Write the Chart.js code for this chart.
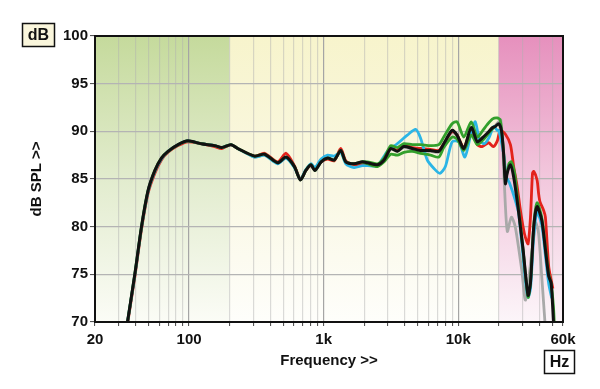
<!DOCTYPE html>
<html>
<head>
<meta charset="utf-8">
<script src="https://cdn.jsdelivr.net/npm/chart.js@4"></script>
<style>
  html, body { margin: 0; padding: 0; background: #fff; }
  #wrap { width: 600px; height: 389px; position: relative; }
</style>
</head>
<body>
<div id="wrap"><canvas id="fr"></canvas></div>
<script>
// frequency axis ticks (Hz) and which of them get a label
const xTicks = [20,30,40,50,60,70,80,90,100,200,300,400,500,600,700,800,900,
  1000,2000,3000,4000,5000,6000,7000,8000,9000,10000,20000,30000,40000,50000,60000];
const xLabels = { 20: '20', 100: '100', 1000: '1k', 10000: '10k', 60000: '60k' };

// black (main) response
const blackHz = [34,39.6,44.3,49.6,55.7,62.3,69.8,82.8,98,123,155,175,205,230,306,364,455,526,606,672,
  737,804,860,958,1070,1198,1340,1460,1684,1940,2115,2510,2810,3150,3520,3940,4550,5240,6220,7170,
  7800,9000,9800,11000,12480,13850,15060,16400,18000,18800,20000,20940,21700,22400,23060,24400,25800,28100,30300,33000,
  34400,36400,38500,41700,44400,47000,49000,51000,52000];
const blackDb = [69.0,75.1,80.0,83.8,85.9,87.2,87.9,88.6,89.0,88.7,88.5,88.3,88.6,88.2,87.4,87.6,86.7,87.3,86.3,84.9,
  85.9,86.5,85.9,86.8,87.2,87.0,88.0,86.8,86.6,86.8,86.7,86.5,87.0,88.2,87.9,88.4,88.2,88.0,88.0,87.9,
  88.7,90.1,89.6,88.2,90.4,88.9,89.3,89.8,90.4,90.5,90.8,90.1,87.7,84.5,85.6,86.5,85.2,81.5,77.6,72.8,
  74.1,80.0,82.1,80.7,77.6,74.8,74.1,70.0,68.5];

// red
const redHz = [34,39.6,44.3,49.6,55.7,62.3,69.8,82.8,98,123,155,175,205,230,306,364,455,526,606,672,
  737,804,860,958,1070,1198,1340,1460,1684,1940,2115,2510,2810,3150,3520,3940,4550,5240,6220,7170,
  7800,9000,9800,11000,12480,13850,15060,16800,18200,19500,20500,22400,24400,25800,27400,28700,30300,31500,33000,34400,
  35600,36400,38500,39500,40500,43100,44400,47000,49000,50500];
const redDb = [68.8,74.8,79.7,83.5,85.6,87.0,87.8,88.5,88.9,88.7,88.4,88.2,88.6,88.2,87.4,87.7,86.8,87.7,86.4,85.0,
  85.9,86.4,86.0,86.8,87.1,86.9,88.2,86.9,86.5,86.6,86.6,86.4,87.1,88.3,88.0,88.6,88.3,88.2,88.1,88.0,
  88.7,90.0,89.6,88.3,90.2,88.6,88.4,88.8,88.4,89.0,90.1,89.7,88.6,86.3,84.2,82.1,80.0,78.9,78.2,81.0,
  85.6,85.8,84.9,83.5,82.6,81.7,81.0,75.8,74.4,73.5];

// cyan
const cyanHz = [34,39.6,44.3,49.6,55.7,62.3,69.8,82.8,98,123,155,175,205,230,306,364,455,526,606,672,
  737,804,860,958,1070,1198,1340,1460,1684,1940,2115,2510,2970,3520,4180,4820,5240,5880,6600,7300,
  8020,9000,10100,11200,12360,13380,14360,15580,16860,18360,19500,20000,21700,22800,24000,26500,28100,31500,33000,34400,
  36400,38500,41700,44400,47000,49500];
const cyanDb = [69.0,75.0,79.9,83.7,85.8,87.1,87.9,88.6,89.0,88.7,88.5,88.3,88.6,88.2,87.3,87.5,86.6,87.2,86.2,85.0,
  86.0,86.6,86.2,87.1,87.5,87.4,87.8,86.6,86.2,86.4,86.4,86.4,87.9,88.7,89.6,90.2,89.3,87.0,86.1,85.6,
  86.3,88.9,88.9,87.3,89.6,91.0,89.1,88.7,89.3,90.5,90.1,90.1,87.7,85.2,84.6,82.8,81.4,74.4,72.6,73.5,
  79.0,81.5,80.2,77.0,74.0,72.5];

// grey
const greyHz = [34,39.6,44.3,49.6,55.7,62.3,69.8,82.8,98,123,155,175,205,230,306,364,455,526,606,672,
  737,804,860,958,1070,1198,1340,1460,1684,1940,2115,2510,2810,3150,3520,3940,4550,5240,6220,7170,
  7800,9000,9800,11000,12480,13850,15060,16400,18000,18800,20000,20700,21400,22000,23140,24800,26500,29600,31600,35600,
  37600,39500,41700,43600,44800];
const greyDb = [69.0,75.0,79.9,83.7,85.8,87.1,87.9,88.6,89.0,88.7,88.5,88.3,88.6,88.2,87.3,87.5,86.7,87.2,86.3,84.9,
  85.9,86.5,85.9,86.8,87.2,87.0,87.9,86.8,86.6,86.7,86.6,86.5,87.0,88.1,87.9,88.3,88.1,87.9,87.9,87.8,
  88.5,89.9,89.5,88.2,90.2,88.9,89.3,89.6,90.3,90.6,91.0,91.2,88.5,84.5,79.5,81.0,80.0,75.5,72.3,77.9,
  80.4,79.3,74.8,70.9,68.5];

// green, upper trace
const greenAHz = [34,39.6,44.3,49.6,55.7,62.3,69.8,82.8,98,123,155,175,205,230,306,364,455,526,606,672,
  737,804,860,958,1070,1198,1340,1460,1684,1940,2115,2510,2810,3150,3520,3940,4550,5240,6220,7170,
  7800,9000,9800,11000,12480,13850,15060,16400,18000,19500,20500,21700,22400,23800,24800,26300,28100,30300,33000,34400,
  36400,38500,41700,44400,47000,49000,51000,52000];
const greenADb = [69.0,75.1,80.0,83.8,85.9,87.2,87.9,88.6,89.0,88.7,88.5,88.3,88.6,88.2,87.4,87.6,86.7,87.3,86.3,84.9,
  85.9,86.5,85.9,86.8,87.2,87.0,88.0,86.8,86.6,86.8,86.8,86.6,87.2,88.5,88.3,88.7,88.6,88.6,88.5,88.6,
  89.4,90.8,91.0,89.4,91.0,89.4,90.0,90.7,91.3,91.4,91.2,88.0,84.9,86.6,86.8,85.5,81.8,77.6,72.6,74.2,
  80.2,82.5,81.0,77.8,75.0,74.0,71.5,69.0];

// green, lower trace
const greenBHz = [1940,2115,2510,2810,3150,3520,3940,4550,5240,6220,7170,7800,9000,9800,11000,12480,13850,15060,16400,18000,18800];
const greenBDb = [86.8,86.6,86.3,86.8,87.6,87.5,87.8,87.9,87.7,87.5,87.3,88.3,89.4,89.2,88.0,89.6,88.6,89.0,89.6,90.3,90.5];

const FONT = "'Liberation Sans', Arial, sans-serif";

function toPoints(hz, db) {
    return hz.map((f, i) => ({ x: f, y: db[i] }));
}

function line(label, hz, db, color, width) {
    return {
        label: label,
        data: toPoints(hz, db),
        borderColor: color,
        borderWidth: width,
        pointRadius: 0,
        tension: 0.25,
        fill: false,
        clip: 0
    };
}

// shaded bands behind the grid
const bandsPlugin = {
    id: 'bands',
    beforeDraw(chart) {
        const { ctx, chartArea: a, scales: { x } } = chart;
        const x200 = x.getPixelForValue(200);
        const x20k = x.getPixelForValue(20000);
        function band(x0, x1, stops) {
            const g = ctx.createLinearGradient(0, a.top, 0, a.bottom);
            stops.forEach(s => g.addColorStop(s[0], s[1]));
            ctx.fillStyle = g;
            ctx.fillRect(x0, a.top, x1 - x0, a.bottom - a.top);
        }
        ctx.save();
        band(a.left, x200, [[0, '#c5da9c'], [0.5, '#e2ecce'], [1, '#fbfcf6']]);
        band(x200, x20k, [[0, '#f7f4cc'], [0.55, '#faf8e4'], [1, '#fefefb']]);
        band(x20k, a.right, [[0, '#e690bd'], [0.5, '#f2c8dd'], [1, '#fcf5f9']]);
        ctx.restore();
    }
};

// frame + the little unit boxes
const framePlugin = {
    id: 'frame',
    afterDraw(chart) {
        const { ctx, chartArea: a } = chart;
        ctx.save();
        ctx.strokeStyle = '#111';
        ctx.lineWidth = 2;
        ctx.strokeRect(a.left, a.top, a.right - a.left, a.bottom - a.top);

        function box(x, y, w, h, fill, text) {
            ctx.fillStyle = fill;
            ctx.fillRect(x, y, w, h);
            ctx.lineWidth = 1.5;
            ctx.strokeStyle = '#111';
            ctx.strokeRect(x, y, w, h);
            ctx.fillStyle = '#111';
            ctx.font = 'bold 16px ' + FONT;
            ctx.textAlign = 'center';
            ctx.textBaseline = 'middle';
            ctx.fillText(text, x + w / 2, y + h / 2 + 1);
        }
        box(22.5, 23.5, 32, 23, '#faf6dc', 'dB');
        box(544.5, 350.5, 30, 23, '#ffffff', 'Hz');
        ctx.restore();
    }
};

Chart.defaults.font.family = FONT;
Chart.defaults.font.size = 15;
Chart.defaults.font.weight = 'bold';
Chart.defaults.color = '#111';

new Chart(document.getElementById('fr'), {
    type: 'line',
    data: {
        datasets: [
            line('black', blackHz, blackDb, '#111111', 3),
            line('greenA', greenAHz, greenADb, '#33a02c', 2.8),
            line('greenB', greenBHz, greenBDb, '#33a02c', 2.8),
            line('cyan', cyanHz, cyanDb, '#2bb5e6', 2.8),
            line('red', redHz, redDb, '#e3221b', 2.8),
            line('grey', greyHz, greyDb, '#a9a9a9', 2.8)
        ]
    },
    options: {
        responsive: true,
        maintainAspectRatio: false,
        animation: false,
        devicePixelRatio: 1,
        layout: { padding: { top: 36, right: 37, bottom: 0, left: 0 } },
        plugins: {
            legend: { display: false },
            tooltip: { enabled: false }
        },
        scales: {
            x: {
                type: 'logarithmic',
                min: 20,
                max: 60000,
                afterFit(scale) { scale.height = 67; },
                afterBuildTicks(scale) {
                    scale.ticks = xTicks.map(v => ({ value: v }));
                },
                ticks: {
                    autoSkip: false,
                    maxRotation: 0,
                    padding: 5,
                    callback: (v) => xLabels[v] || ''
                },
                grid: {
                    color: (c) => {
                        const v = c.tick && c.tick.value;
                        return (v === 100 || v === 1000 || v === 10000) ? '#a5a5a5' : 'rgba(175,175,175,0.45)';
                    },
                    lineWidth: 1.2,
                    tickLength: 4,
                    tickColor: '#444',
                    tickWidth: 1
                },
                border: { display: false },
                title: {
                    display: true,
                    text: 'Frequency >>',
                    font: { size: 15, weight: 'bold' },
                    padding: { top: 0, bottom: 19 }
                }
            },
            y: {
                min: 70,
                max: 100,
                afterFit(scale) { scale.width = 95; },
                ticks: { stepSize: 5, padding: 2 },
                grid: {
                    color: '#b4b4b4',
                    lineWidth: 1.2,
                    tickLength: 5,
                    tickColor: '#444',
                    tickWidth: 1
                },
                border: { display: false },
                title: {
                    display: true,
                    text: 'dB SPL >>',
                    font: { size: 15, weight: 'bold' },
                    padding: { top: 28, bottom: 0 }
                }
            }
        }
    },
    plugins: [bandsPlugin, framePlugin]
});
</script>
</body>
</html>
